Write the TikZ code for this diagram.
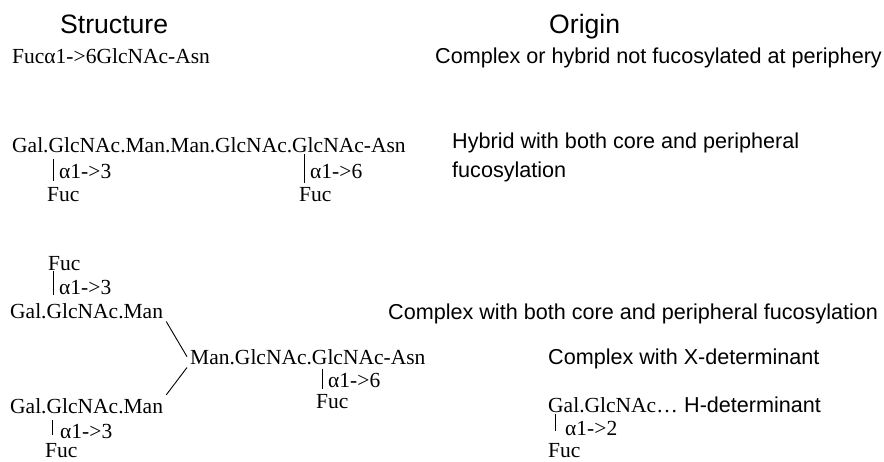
\documentclass[tikz,border=0pt]{standalone}
\usepackage{fontspec}
\setmainfont{Liberation Serif}
\setsansfont{Liberation Sans}
\usetikzlibrary{positioning}

\begin{document}
\begin{tikzpicture}[x=1pt, y=-1pt,
  glycan/.style={font=\fontsize{21.5}{25}\selectfont, inner sep=0pt, anchor=base west},
  branch/.style={glycan, inner sep=3pt},
  link/.style={glycan, inner xsep=6pt},
  origin/.style={font=\sffamily\fontsize{21.6}{26}\selectfont, inner sep=0pt, anchor=base west},
  heading/.style={font=\sffamily\fontsize{26.6}{30}\selectfont, inner sep=0pt, anchor=base west},
  bond/.style={line width=0.9pt}]
\useasboundingbox (0,0) rectangle (884,461);

\node[heading] (hstruct) at (60,33) {Structure};
\node[heading] (horigin) at (549,33) {Origin};

% core fucose only
\node[glycan] (core1) at (12,63) {Fucα1->6GlcNAc-Asn};
\node[origin] (orig1) at (435,63) {Complex or hybrid not fucosylated at periphery};

% hybrid
\node[glycan] (hyb) at (12,152) {Gal.GlcNAc.Man.Man.GlcNAc.GlcNAc-Asn};
\node[link] (hybA) at (53,178) {α1->3};
\node[glycan] (hybFucA) at (47,201) {Fuc};
\node[link] (hybB) at (304,178) {α1->6};
\node[glycan] (hybFucB) at (299,201) {Fuc};
\node[origin] (orig2) at (452,148) {Hybrid with both core and peripheral};
\node[origin] (orig2b) at (452,177) {fucosylation};
\draw[bond] ([yshift=5pt]hybA.north west) -- ([yshift=-3pt]hybA.south west);
\draw[bond] ([yshift=10pt]hybB.north west) -- ([yshift=-5pt]hybB.south west);

% complex, biantennary
\node[glycan] (fucTop) at (48,270) {Fuc};
\node[link] (lnkTop) at (53,294) {α1->3};
\node[branch] (armUp) at (7,318) {Gal.GlcNAc.Man};
\node[branch] (trunk) at (187,364) {Man.GlcNAc.GlcNAc-Asn};
\node[branch] (armLow) at (7,413) {Gal.GlcNAc.Man};
\node[link] (lnkCore) at (322,387) {α1->6};
\node[glycan] (fucCore) at (316,408) {Fuc};
\node[link, inner xsep=8pt] (lnkLow) at (52,438) {α1->3};
\node[glycan] (fucLow) at (45,457) {Fuc};
\draw[bond] ([yshift=9pt]lnkTop.north west) -- ([yshift=-1pt]lnkTop.south west);
\draw[bond] (armUp.south east) -- (trunk.west);
\draw[bond] (trunk.south west) -- (armLow.north east);
\draw[bond] ([yshift=4pt]lnkCore.north west) -- ([yshift=-2pt]lnkCore.south west);
\draw[bond] ([yshift=4pt]lnkLow.north west) -- ([yshift=3pt]lnkLow.south west);
\node[origin] (orig3) at (388,319) {Complex with both core and peripheral fucosylation};
\node[origin] (orig4) at (548,364) {Complex with X-determinant};

% H-determinant
\node[glycan] (hchain) at (548,412) {Gal.GlcNAc…};
\node[origin] (hdet) at ([xshift=6pt]hchain.base east) {H-determinant};
\node[link, inner xsep=10pt] (lnkH) at (555,435) {α1->2};
\node[glycan] (fucH) at (548,457) {Fuc};
\draw[bond] ([yshift=7pt]lnkH.north west) -- ([yshift=4pt]lnkH.south west);
\end{tikzpicture}
\end{document}
